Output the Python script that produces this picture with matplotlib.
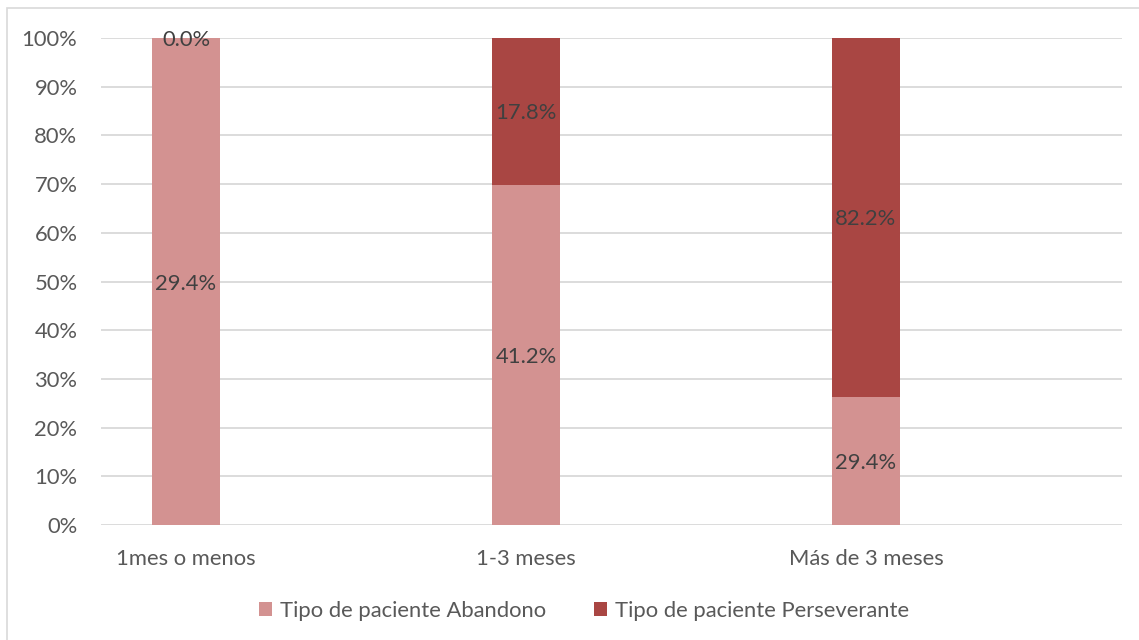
import matplotlib
matplotlib.use("Agg")
import matplotlib.pyplot as plt
from matplotlib.patches import Rectangle
import numpy as np

categories = ["1mes o menos", "1-3 meses", "Más de 3 meses"]
abandono = [29.4, 41.2, 29.4]
perseverante = [0.0, 17.8, 82.2]
series_names = ["Tipo de paciente Abandono", "Tipo de paciente Perseverante"]
yticks = [0, 10, 20, 30, 40, 50, 60, 70, 80, 90, 100]

plt.rcParams["font.family"] = ["Lato", "DejaVu Sans"]

col_ab = "#D39291"
col_pe = "#A94643"
txt = "#595959"
lab = "#404040"
grid = "#D9D9D9"
fs = 15.8

ab = np.array(abandono)
pe = np.array(perseverante)
tot = ab + pe
ab_pct = ab / tot * 100
pe_pct = pe / tot * 100

fig = plt.figure(figsize=(11.39, 6.40), dpi=100)
fig.patches.append(Rectangle((7 / 1139, -0.1), 1.2, (1 - 8 / 640) + 0.1,
                             transform=fig.transFigure, fill=False,
                             edgecolor="#D9D9D9", linewidth=1.2))
ax = fig.add_axes([101 / 1139, 1 - 525 / 640, (1122 - 101) / 1139, (525 - 38) / 640])

x = np.arange(len(categories))
w = 0.2
b1 = ax.bar(x, ab_pct, w, color=col_ab, label=series_names[0], zorder=3)
b2 = ax.bar(x, pe_pct, w, bottom=ab_pct, color=col_pe, label=series_names[1], zorder=3)

for xi, h, v in zip(x, ab_pct, abandono):
    ax.text(xi, h / 2, f"{v:.1f}%", ha="center", va="center_baseline", fontsize=fs,
            color=lab, zorder=4)
for xi, b, h, v in zip(x, ab_pct, pe_pct, perseverante):
    ax.text(xi, b + h / 2, f"{v:.1f}%", ha="center", va="center_baseline", fontsize=fs,
            color=lab, zorder=4)

ax.set_xlim(-0.25, 2.753)
ax.set_ylim(0, 100)
ax.set_yticks(yticks)
ax.set_yticklabels([f"{t}%" for t in yticks])
ax.set_xticks(x)
ax.set_xticklabels(categories)
ax.tick_params(axis="y", length=0, pad=17, labelsize=fs, labelcolor=txt)
ax.tick_params(axis="x", length=0, pad=17, labelsize=fs, labelcolor=txt)
ax.yaxis.grid(True, color=grid, linewidth=1.3, zorder=0)
ax.set_axisbelow(True)
for s in ax.spines.values():
    s.set_visible(False)

fig.legend(handles=[b1, b2], labels=series_names, loc="center",
           bbox_to_anchor=(584 / 1139, 1 - 611 / 640), ncol=2, frameon=False,
           fontsize=fs, labelcolor=txt, handlelength=0.6, handleheight=0.6,
           handletextpad=0.35, columnspacing=2.2)

fig.savefig("out.png", dpi=100)
